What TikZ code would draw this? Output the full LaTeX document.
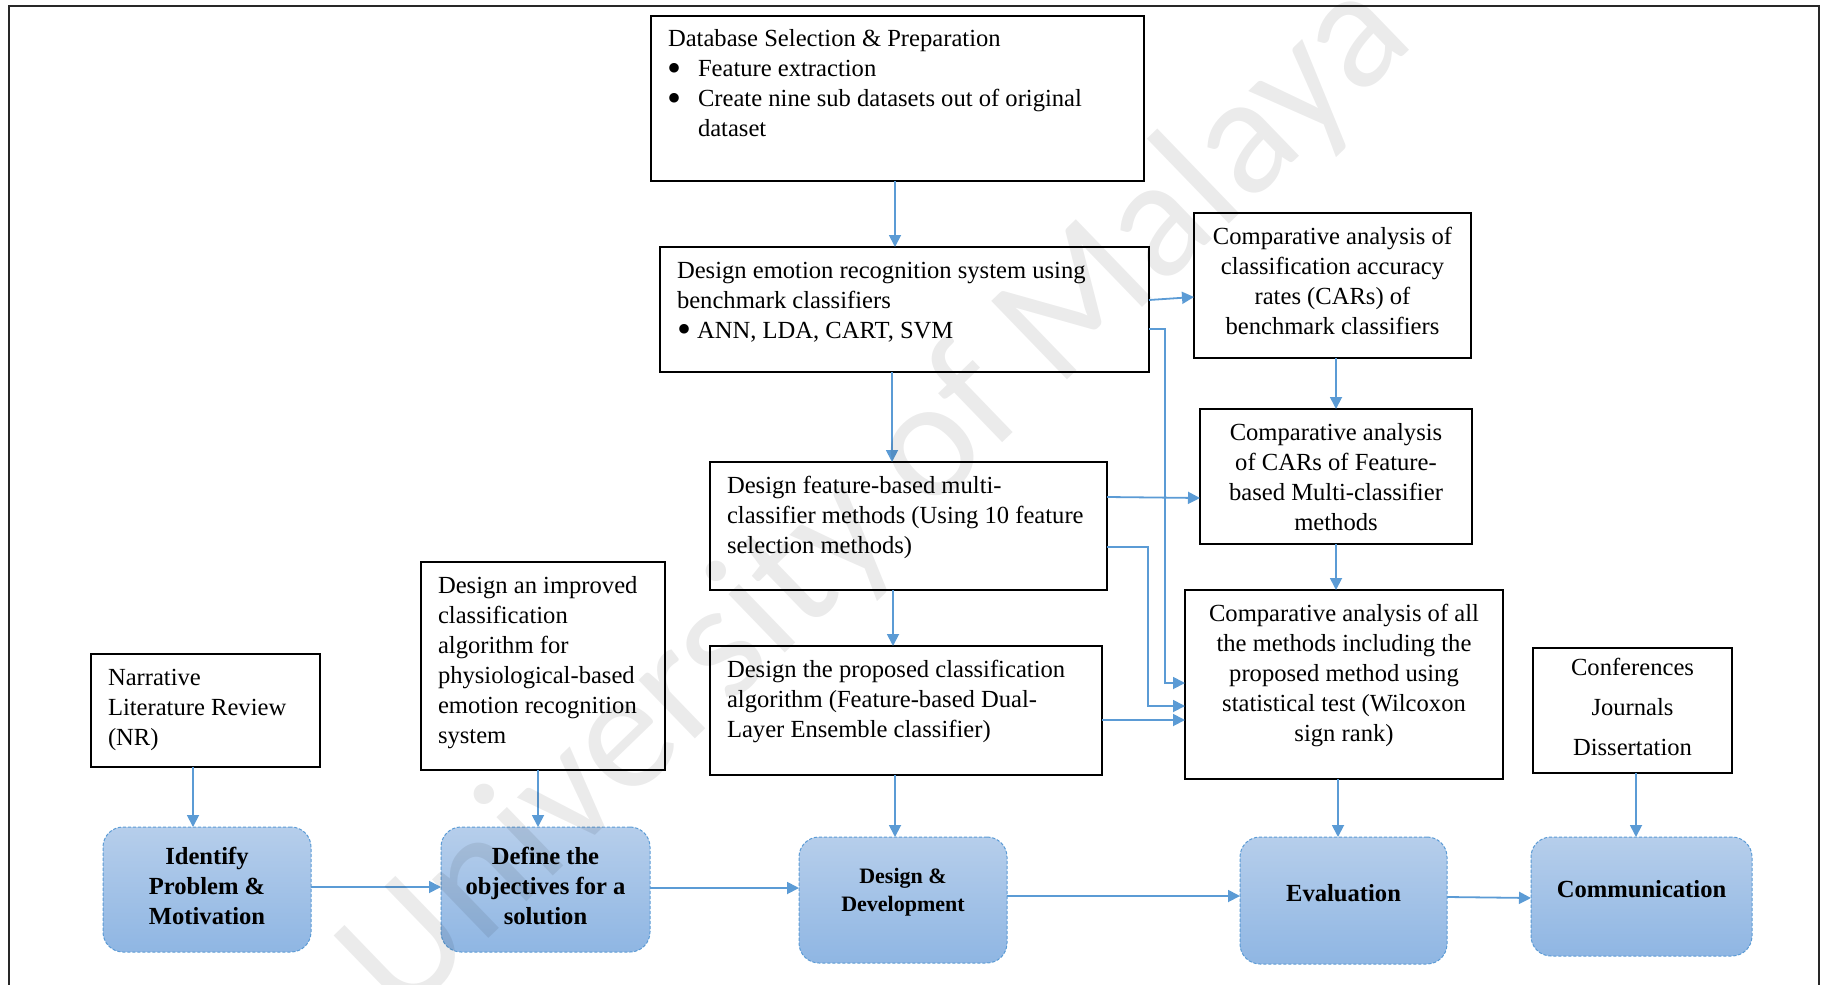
\documentclass[tikz,border=0pt]{standalone}
\usepackage{fontspec}
\setmainfont{Liberation Serif}
\newfontfamily\wmfont{Carlito}
\usetikzlibrary{arrows.meta,calc}

\definecolor{flowblue}{RGB}{91,155,213}
\definecolor{stagetop}{RGB}{182,206,235}
\definecolor{stagebot}{RGB}{143,182,227}
\definecolor{frameline}{RGB}{40,40,40}

% one drawing unit = one pixel of the layout grid
\newlength\upx
\setlength\upx{0.5pt}

% left-aligned text block of fixed size, text hung from the top
\newcommand\lcell[3]{\parbox[c][#2\upx][t]{#1\upx}{\raggedright\leftskip=17\upx\rule{0pt}{31\upx}#3\par}}
% centred text block of fixed size, text hung from the top
\newcommand\ccell[3]{\parbox[c][#2\upx][t]{#1\upx}{\centering\rule{0pt}{31\upx}#3\par}}
% centred bold text in a stage box, lifted by half of #3
\newcommand\scell[4]{\parbox[c][#2\upx][c]{#1\upx}{\centering\bfseries #4\par\vspace{#3\upx}}}
% bullet item start: optional inset, then width of the bullet column
\newcommand\bul[2][3]{\makebox[#2\upx][l]{\hspace{#1\upx}\raisebox{-2pt}{\fontsize{20}{15}\selectfont\textbullet}}}

\begin{document}
\begin{tikzpicture}[x=0.5pt,y=-0.5pt,
  font=\fontsize{12.3}{15}\selectfont,
  box/.style={draw=black, line width=0.8pt, inner sep=0pt, outer sep=0pt},
  stage/.style={draw=flowblue, line width=0.5pt, dash pattern=on 1.6pt off 0.9pt,
    rounded corners=10pt, top color=stagetop, bottom color=stagebot,
    inner sep=0pt, outer sep=0pt},
  arr/.style={draw=flowblue, line width=0.9pt, -{Triangle[length=6pt,width=6pt]}},
  wm/.style={font=\wmfont\fontsize{85}{85}\selectfont, text=black, opacity=0.08, inner sep=0pt},
  frame/.style={draw=frameline, line width=1pt}
]
\useasboundingbox (0,0) rectangle (1821,985);

% outer frame
\draw[frame] (9,985) -- (9,6) -- (1819,6) -- (1819,985);

% process boxes
\node[box] (db) at (897.5,98.5) {\lcell{493}{165}{%
  Database Selection \& Preparation\\
  \bul[-1]{30}Feature extraction\\
  \bul[-1]{30}Create nine sub datasets out of original\\
  \hspace*{30\upx}dataset}};

\node[box] (emo) at (904.5,309.5) {\lcell{489}{125}{%
  Design emotion recognition system using\\
  benchmark classifiers\\
  \bul[0]{20}ANN, LDA, CART, SVM}};

\node[box] (car) at (1332.5,285.5) {\ccell{277}{145}{%
  Comparative analysis of\\
  classification accuracy\\
  rates (CARs) of\\
  benchmark classifiers}};

\node[box] (cmf) at (1336,476.5) {\ccell{272}{135}{%
  Comparative analysis\\
  of CARs of Feature-\\
  based Multi-classifier\\
  methods}};

\node[box] (feat) at (908.5,526) {\lcell{397}{128}{%
  Design feature-based multi-\\
  classifier methods (Using 10 feature\\
  selection methods)}};

\node[box] (prop) at (906,710.5) {\lcell{392}{129}{%
  Design the proposed classification\\
  algorithm (Feature-based Dual-\\
  Layer Ensemble classifier)}};

\node[box] (all) at (1344,684.5) {\ccell{318}{189}{%
  Comparative analysis of all\\
  the methods including the\\
  proposed method using\\
  statistical test (Wilcoxon\\
  sign rank)}};

\node[box] (conf) at (1632.5,710.5) {\parbox[c][125\upx][t]{199\upx}{%
  \centering\baselineskip=20pt\rule{0pt}{27\upx}Conferences\\
  Journals\\
  Dissertation\par}};

\node[box] (narr) at (205.5,710.5) {\lcell{229}{113}{%
  Narrative\\
  Literature Review\\
  (NR)}};

\node[box] (impr) at (543,666) {\lcell{244}{208}{%
  Design an improved\\
  classification\\
  algorithm for\\
  physiological-based\\
  emotion recognition\\
  system}};

% research stages
\node[stage] (ident) at (207,889.5) {\scell{208}{125}{7}{Identify\\ Problem \&\\ Motivation}};
\node[stage] (define) at (545.5,889.5) {\scell{209}{125}{7}{Define the\\ objectives for a\\ solution}};
\node[stage] (dd) at (903,900) {\scell{208}{126}{16}{\fontsize{11}{14}\selectfont Design \&\\ Development}};
\node[stage] (eval) at (1343.5,900.5) {\scell{207}{127}{15}{Evaluation}};
\node[stage] (comm) at (1641.5,896.5) {\scell{221}{119}{15}{Communication}};

% guide positions for the connectors
\coordinate (xdb) at (895,0);
\coordinate (xemo) at (892,0);
\coordinate (xfeat) at (893,0);
\coordinate (xcar) at (1336,0);
\coordinate (xall) at (1338,0);
\coordinate (xconf) at (1636,0);
\coordinate (xnarr) at (193,0);
\coordinate (ximpr) at (538,0);
\coordinate (yemoA) at (0,300);
\coordinate (ycarA) at (0,297);
\coordinate (yemoB) at (0,329);
\coordinate (kemo) at (1165,683);
\coordinate (yfeatA) at (0,497);
\coordinate (ycmfA) at (0,498);
\coordinate (yfeatB) at (0,547);
\coordinate (kfeat) at (1148,706);
\coordinate (yprop) at (0,720);
\coordinate (yid) at (0,887);
\coordinate (ydef) at (0,888);
\coordinate (ydd) at (0,896);
\coordinate (yevA) at (0,897);
\coordinate (yevB) at (0,898);

% connectors
\draw[arr] (db.south -| xdb) -- (emo.north -| xdb);
\draw[arr] (emo.east |- yemoA) -- (car.west |- ycarA);
\draw[arr] (emo.east |- yemoB) -| (kemo) -- (kemo -| all.west);
\draw[arr] (emo.south -| xemo) -- (feat.north -| xemo);
\draw[arr] (feat.east |- yfeatA) -- (cmf.west |- ycmfA);
\draw[arr] (feat.east |- yfeatB) -| (kfeat) -- (kfeat -| all.west);
\draw[arr] (feat.south -| xfeat) -- (prop.north -| xfeat);
\draw[arr] (prop.east |- yprop) -- (all.west |- yprop);
\draw[arr] (prop.south -| xdb) -- (dd.north -| xdb);
\draw[arr] (car.south -| xcar) -- (cmf.north -| xcar);
\draw[arr] (cmf.south -| xcar) -- (all.north -| xcar);
\draw[arr] (all.south -| xall) -- (eval.north -| xall);
\draw[arr] (conf.south -| xconf) -- (comm.north -| xconf);
\draw[arr] (narr.south -| xnarr) -- (ident.north -| xnarr);
\draw[arr] (impr.south -| ximpr) -- (define.north -| ximpr);
\draw[arr] (ident.east |- yid) -- (define.west |- yid);
\draw[arr] (define.east |- ydef) -- (dd.west |- ydef);
\draw[arr] (dd.east |- ydd) -- (eval.west |- ydd);
\draw[arr] (eval.east |- yevA) -- (comm.west |- yevB);

% watermark
\node[wm, rotate=44] (wm) at (878,500) {University of Malaya};
\end{tikzpicture}
\end{document}
